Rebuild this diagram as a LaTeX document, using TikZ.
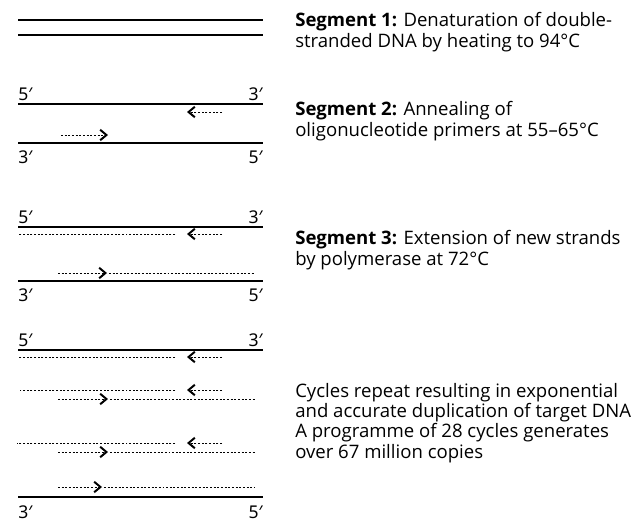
\documentclass[tikz,border=0pt]{standalone}
\usepackage{fontspec}
\setmainfont{Open Sans}
\newfontfamily\primefont{Noto Sans}
\usetikzlibrary{arrows.meta}

\tikzset{
	strand/.style = {line width=0.75pt},
	primer/.style = {line width=0.6pt, dash pattern=on 1.4pt off 1.2pt},
	chev/.style = {-{Straight Barb[length=4.5pt,width=7.5pt,line width=1.4pt]}},
	endlbl/.style = {inner sep=0pt, font=\primefont\fontsize{12.5}{14}\selectfont},
	note/.style = {inner sep=0pt, anchor=base west, align=left, font=\fontsize{13.2}{14.3}\selectfont}
}

\begin{document}
\begin{tikzpicture}[x=0.025cm, y=-0.025cm]
		\useasboundingbox (0,0) rectangle (643,521);
		
		% segment 1
		\draw[strand] (18,20) -- (263,20);
		\draw[strand] (18,35) -- (263,35);
		
		% segment 2
		\draw (18,100) node[endlbl, anchor=base west] (s2a) {5′}
		(263,100) node[endlbl, anchor=base east] (s2b) {3′}
		(18,163) node[endlbl, anchor=base west] (s2c) {3′}
		(263,163) node[endlbl, anchor=base east] (s2d) {5′};
		\draw[strand] (18,104) -- (263,104);
		\draw[primer, chev] (222,112) -- (187,112);
		\draw[primer, chev] (61,135) -- (108,135);
		\draw[strand] (18,143) -- (263,143);
		
		% segment 3
		\draw (18,223) node[endlbl, anchor=base west] (s3a) {5′}
		(263,223) node[endlbl, anchor=base east] (s3b) {3′}
		(18,301) node[endlbl, anchor=base west] (s3c) {3′}
		(263,301) node[endlbl, anchor=base east] (s3d) {5′};
		\draw[strand] (18,227) -- (263,227);
		\draw[primer, chev] (222,234) -- (187,234);
		\draw[primer] (175,234) -- (18,234);
		\draw[primer, chev] (58,273) -- (107,273);
		\draw[primer] (109,273) -- (255,273);
		\draw[strand] (18,281) -- (263,281);
		
		% cycles
		\draw (18,346) node[endlbl, anchor=base west] (s4a) {5′}
		(263,346) node[endlbl, anchor=base east] (s4b) {3′}
		(18,518) node[endlbl, anchor=base west] (s4c) {3′}
		(263,518) node[endlbl, anchor=base east] (s4d) {5′};
		\draw[strand] (18,350) -- (263,350);
		\draw[primer, chev] (222,357) -- (187,357);
		\draw[primer] (175,357) -- (18,357);
		
		\draw[primer, chev] (222,390) -- (187,390);
		\draw[primer] (175,390) -- (20,390);
		\draw[primer, chev] (58,399) -- (108,399);
		\draw[primer] (110,399) -- (255,399);
		
		\draw[primer, chev] (222,443) -- (187,443);
		\draw[primer] (175,443) -- (17,443);
		\draw[primer, chev] (58,452) -- (108,452);
		\draw[primer] (110,452) -- (255,452);
		
		\draw[primer, chev] (58,487) -- (102,487);
		\draw[primer] (104,487) -- (255,487);
		\draw[strand] (18,497) -- (263,497);
		
		% text (base = last line)
		\node[note] (t1) at (295,47) {\textbf{Segment 1:} Denaturation of double-\\stranded DNA by heating to 94°C};
		\node[note] (t2) at (295,136) {\textbf{Segment 2:} Annealing of\\oligonucleotide primers at 55–65°C};
		\node[note] (t3) at (295,265) {\textbf{Segment 3:} Extension of new strands\\by polymerase at 72°C};
		\node[note] (t4) at (295,458) {Cycles repeat resulting in exponential\\and accurate duplication of target DNA\\A programme of 28 cycles generates\\over 67 million copies};
	\end{tikzpicture}
\end{document}
